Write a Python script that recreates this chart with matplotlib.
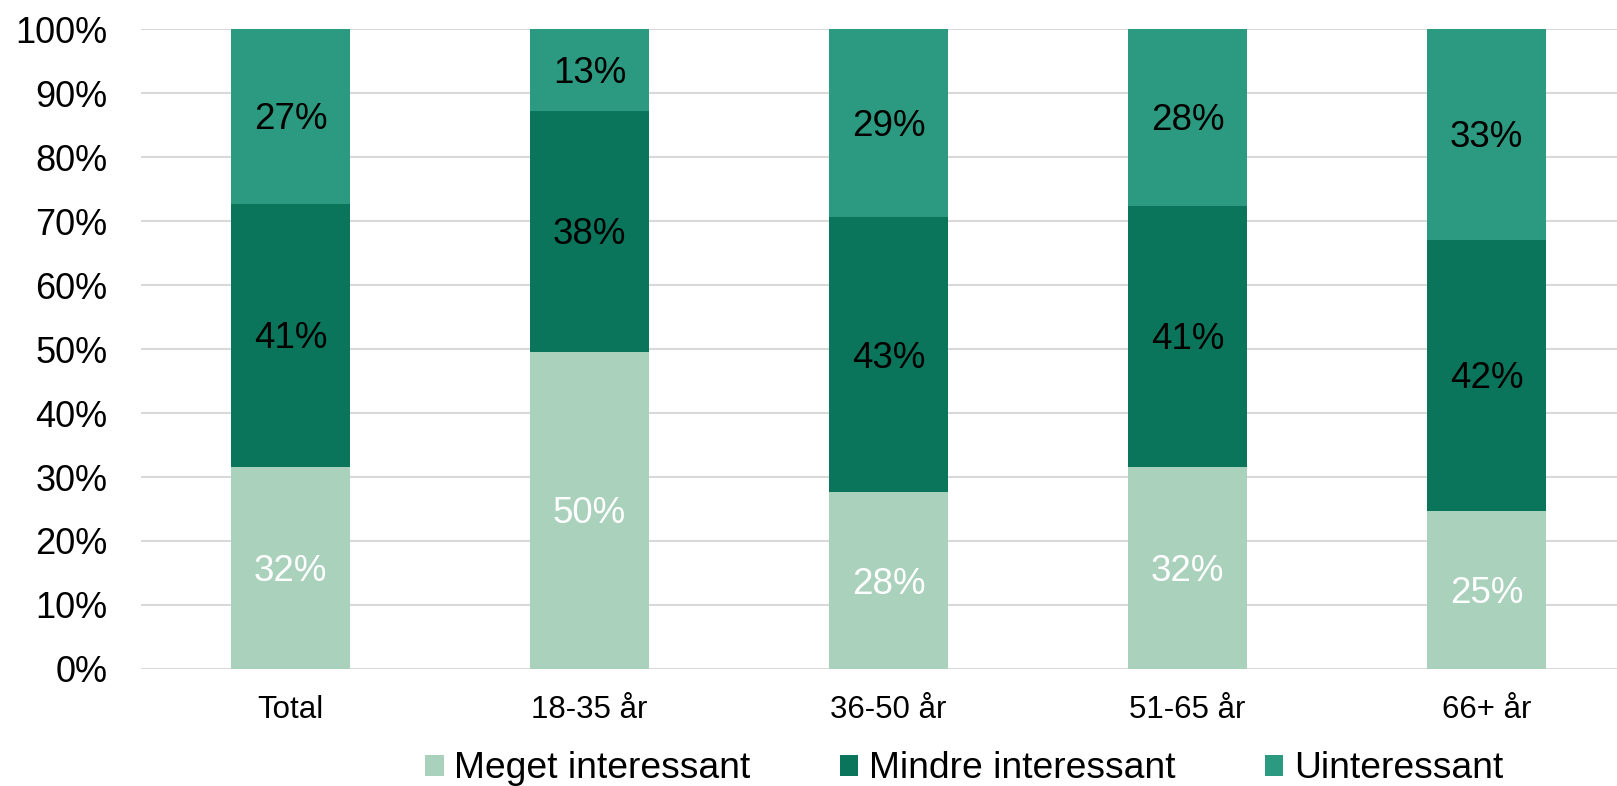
import matplotlib
matplotlib.use("Agg")
import matplotlib.pyplot as plt
import numpy as np

plt.rcParams["font.family"] = ["Liberation Sans", "DejaVu Sans"]

categories = ["Total", "18-35 år", "36-50 år", "51-65 år", "66+ år"]
series_names = ["Meget interessant", "Mindre interessant", "Uinteressant"]
meget = [31.6, 49.6, 27.6, 31.6, 24.7]
mindre = [41.1, 37.6, 43.0, 40.8, 42.4]
uinteressant = [27.3, 12.8, 29.4, 27.6, 32.9]
yticks = [0, 10, 20, 30, 40, 50, 60, 70, 80, 90, 100]

colors = ["#AAD1BB", "#0B755C", "#2C9A80"]
label_colors = ["white", "black", "black"]

fig = plt.figure(figsize=(16.17, 7.86), dpi=100)
ax = fig.add_axes([141 / 1617, 117 / 786, 1495 / 1617, 640 / 786])

x = np.arange(len(categories))
bottom = np.zeros(len(categories))
for vals, name, col, lc in zip([meget, mindre, uinteressant], series_names, colors, label_colors):
    vals = np.array(vals)
    ax.bar(x, vals, width=0.4, bottom=bottom, color=col, label=name, zorder=3)
    for xi, b, v in zip(x, bottom, vals):
        ax.annotate(f"{v:.0f}%", (xi, b + v / 2), xytext=(0, -2.5),
                    textcoords="offset points", ha="center", va="center",
                    fontsize=26.5, color=lc, zorder=4)
    bottom += vals

ax.set_xlim(-0.5, len(categories) - 0.5)
ax.set_ylim(0, 100)
ax.set_yticks(yticks)
ax.set_yticklabels([f"{t}%" for t in yticks], fontsize=26)
ax.set_xticks(x)
ax.set_xticklabels(categories, fontsize=22.5)
ax.tick_params(axis="y", length=0, pad=24)
ax.tick_params(axis="x", length=0, pad=19)
ax.grid(axis="y", color="#D9D9D9", linewidth=1.5, zorder=0)
for s in ax.spines.values():
    s.set_visible(False)

fig.legend(loc="center", bbox_to_anchor=(964 / 1617, 17 / 786), ncol=3,
           frameon=False, fontsize=26.8, handlelength=0.5, handleheight=0.5,
           handletextpad=0.28, columnspacing=2.4, borderpad=0, borderaxespad=0)

fig.savefig("out.png", dpi=100, facecolor="white")
